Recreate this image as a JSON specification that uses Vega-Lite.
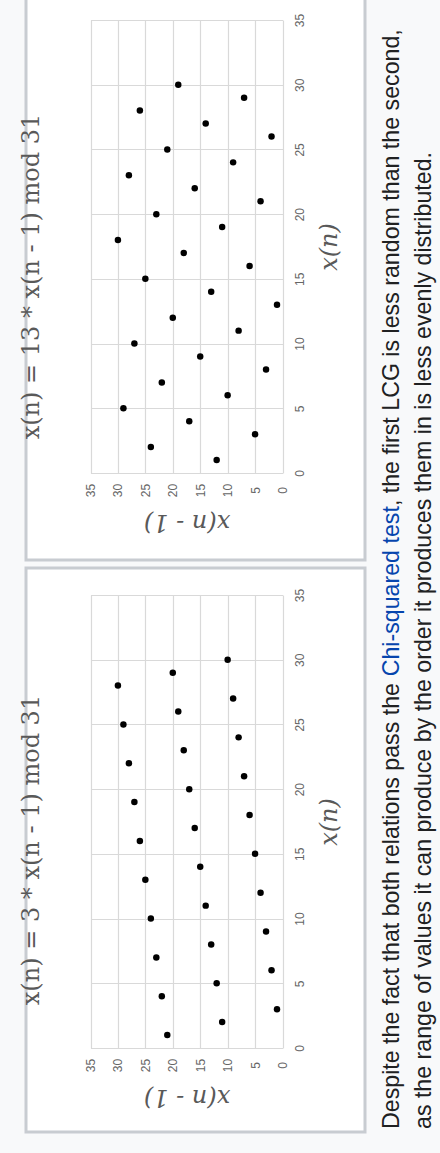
{
  "$schema": "https://vega.github.io/schema/vega-lite/v6.json",
  "background": "#f8f9fa",
  "padding": {"left": 17, "top": -9, "right": 0, "bottom": 21},
  "datasets": {
    "lcg13": [
      {"prev": 1, "next": 13}, {"prev": 2, "next": 26}, {"prev": 3, "next": 8}, {"prev": 4, "next": 21},
      {"prev": 5, "next": 3}, {"prev": 6, "next": 16}, {"prev": 7, "next": 29}, {"prev": 8, "next": 11},
      {"prev": 9, "next": 24}, {"prev": 10, "next": 6}, {"prev": 11, "next": 19}, {"prev": 12, "next": 1},
      {"prev": 13, "next": 14}, {"prev": 14, "next": 27}, {"prev": 15, "next": 9}, {"prev": 16, "next": 22},
      {"prev": 17, "next": 4}, {"prev": 18, "next": 17}, {"prev": 19, "next": 30}, {"prev": 20, "next": 12},
      {"prev": 21, "next": 25}, {"prev": 22, "next": 7}, {"prev": 23, "next": 20}, {"prev": 24, "next": 2},
      {"prev": 25, "next": 15}, {"prev": 26, "next": 28}, {"prev": 27, "next": 10}, {"prev": 28, "next": 23},
      {"prev": 29, "next": 5}, {"prev": 30, "next": 18}
    ],
    "lcg3": [
      {"prev": 1, "next": 3}, {"prev": 2, "next": 6}, {"prev": 3, "next": 9}, {"prev": 4, "next": 12},
      {"prev": 5, "next": 15}, {"prev": 6, "next": 18}, {"prev": 7, "next": 21}, {"prev": 8, "next": 24},
      {"prev": 9, "next": 27}, {"prev": 10, "next": 30}, {"prev": 11, "next": 2}, {"prev": 12, "next": 5},
      {"prev": 13, "next": 8}, {"prev": 14, "next": 11}, {"prev": 15, "next": 14}, {"prev": 16, "next": 17},
      {"prev": 17, "next": 20}, {"prev": 18, "next": 23}, {"prev": 19, "next": 26}, {"prev": 20, "next": 29},
      {"prev": 21, "next": 1}, {"prev": 22, "next": 4}, {"prev": 23, "next": 7}, {"prev": 24, "next": 10},
      {"prev": 25, "next": 13}, {"prev": 26, "next": 16}, {"prev": 27, "next": 19}, {"prev": 28, "next": 22},
      {"prev": 29, "next": 25}, {"prev": 30, "next": 28}
    ],
    "caption": [
      {"part": "a", "t": "Despite the fact that both relations pass the "},
      {"part": "b", "t": "Chi-squared test"},
      {"part": "c", "t": ", the first LCG is less random than the second,"},
      {"part": "d", "t": "as the range of values it can produce by the order it produces them in is less evenly distributed."}
    ]
  },
  "spacing": 0,
  "hconcat": [
    {
      "spacing": 4,
      "vconcat": [
        {
          "width": 339,
          "height": 567,
          "view": {"fill": "white", "stroke": "#c8ccd1", "strokeWidth": 3},
          "title": {"text": "x(n) = 13 * x(n - 1) mod 31", "orient": "left", "anchor": "middle", "frame": "group", "offset": -17.5, "angle": 270, "baseline": "top", "font": "DejaVu Serif", "fontSize": 24, "fontWeight": "normal", "color": "#595959"},
          "data": {"name": "lcg13"},
          "mark": {"type": "point", "filled": true, "color": "black", "size": 42, "opacity": 1},
          "encoding": {
            "x": {"field": "prev", "type": "quantitative",
              "scale": {"domain": [0, 35], "range": [256.5, 64.5], "nice": false, "zero": false},
              "axis": {"orient": "top", "offset": -480, "values": [0, 5, 10, 15, 20, 25, 30, 35], "title": "x(n - 1)",
                "labelAngle": 270, "labelAlign": "center", "labelBaseline": "middle", "labelPadding": -17,
                "titleAngle": 180, "titleBaseline": "bottom", "titleAlign": "center", "titleY": 36.5}},
            "y": {"field": "next", "type": "quantitative",
              "scale": {"domain": [0, 35], "range": [480, 27], "nice": false, "zero": false},
              "axis": {"orient": "left", "offset": -256.5, "values": [0, 5, 10, 15, 20, 25, 30, 35], "title": "x(n)",
                "labelAngle": 270, "labelAlign": "center", "labelBaseline": "middle", "labelPadding": -17,
                "titleAngle": 270, "titleBaseline": "top", "titleAlign": "center", "titleX": 35}}
          }
        },
        {
          "width": 339,
          "height": 564,
          "view": {"fill": "white", "stroke": "#c8ccd1", "strokeWidth": 3},
          "title": {"text": "x(n) = 3 * x(n - 1) mod 31", "orient": "left", "anchor": "middle", "frame": "group", "offset": -17.5, "angle": 270, "baseline": "top", "font": "DejaVu Serif", "fontSize": 24, "fontWeight": "normal", "color": "#595959"},
          "data": {"name": "lcg3"},
          "mark": {"type": "point", "filled": true, "color": "black", "size": 42, "opacity": 1},
          "encoding": {
            "x": {"field": "prev", "type": "quantitative",
              "scale": {"domain": [0, 35], "range": [256.5, 64.5], "nice": false, "zero": false},
              "axis": {"orient": "top", "offset": -480, "values": [0, 5, 10, 15, 20, 25, 30, 35], "title": "x(n - 1)",
                "labelAngle": 270, "labelAlign": "center", "labelBaseline": "middle", "labelPadding": -17,
                "titleAngle": 180, "titleBaseline": "bottom", "titleAlign": "center", "titleY": 36.5}},
            "y": {"field": "next", "type": "quantitative",
              "scale": {"domain": [0, 35], "range": [480, 27], "nice": false, "zero": false},
              "axis": {"orient": "left", "offset": -256.5, "values": [0, 5, 10, 15, 20, 25, 30, 35], "title": "x(n)",
                "labelAngle": 270, "labelAlign": "center", "labelBaseline": "middle", "labelPadding": -17,
                "titleAngle": 270, "titleBaseline": "top", "titleAlign": "center", "titleX": 35}}
          }
        }
      ]
    },
    {
      "width": 81,
      "height": 1141,
      "view": {"fill": "#f8f9fa", "stroke": null},
      "data": {"name": "caption"},
      "layer": [
        {
          "transform": [{"filter": "datum.part === 'a'"}],
          "mark": {"type": "text", "angle": 270, "align": "left", "baseline": "alphabetic", "font": "Liberation Sans", "fontSize": 23.2, "color": "#202122"},
          "encoding": {"text": {"field": "t"}, "x": {"value": 32}, "y": {"value": 1136}}
        },
        {
          "transform": [{"filter": "datum.part === 'b'"}],
          "mark": {"type": "text", "angle": 270, "align": "left", "baseline": "alphabetic", "font": "Liberation Sans", "fontSize": 23.2, "color": "#0645ad", "dx": 452.7},
          "encoding": {"text": {"field": "t"}, "x": {"value": 32}, "y": {"value": 1136}}
        },
        {
          "transform": [{"filter": "datum.part === 'c'"}],
          "mark": {"type": "text", "angle": 270, "align": "left", "baseline": "alphabetic", "font": "Liberation Sans", "fontSize": 23.2, "color": "#202122", "dx": 622.9},
          "encoding": {"text": {"field": "t"}, "x": {"value": 32}, "y": {"value": 1136}}
        },
        {
          "transform": [{"filter": "datum.part === 'd'"}],
          "mark": {"type": "text", "angle": 270, "align": "left", "baseline": "alphabetic", "font": "Liberation Sans", "fontSize": 23.2, "color": "#202122"},
          "encoding": {"text": {"field": "t"}, "x": {"value": 64}, "y": {"value": 1136}}
        }
      ]
    }
  ],
  "config": {
    "view": {"stroke": null},
    "axis": {
      "domain": false,
      "ticks": false,
      "grid": true,
      "gridColor": "#d9d9d9",
      "gridWidth": 1.2,
      "labelFont": "Liberation Sans",
      "labelFontSize": 12,
      "labelColor": "#666666",
      "labelFlush": false,
      "labelOverlap": false,
      "titleFont": "DejaVu Serif",
      "titleFontStyle": "italic",
      "titleFontSize": 24,
      "titleFontWeight": "normal",
      "titleColor": "#595959"
    }
  }
}
